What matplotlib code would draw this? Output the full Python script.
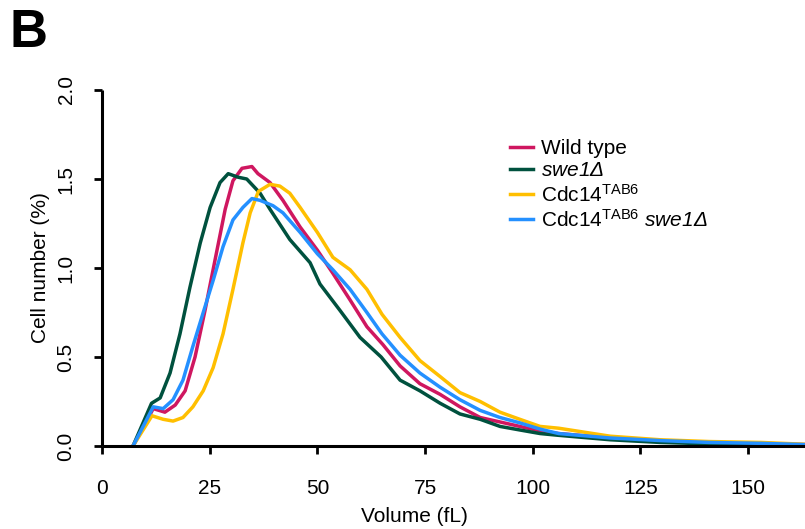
import matplotlib
matplotlib.use("Agg")
import matplotlib.pyplot as plt

plt.rcParams['font.family'] = ['Liberation Sans', 'DejaVu Sans']
plt.rcParams['mathtext.fontset'] = 'custom'
plt.rcParams['mathtext.rm'] = 'Liberation Sans'
plt.rcParams['mathtext.it'] = 'Liberation Sans:italic'
# sf se usa como "cursiva completa" (incluye digitos y Delta)
plt.rcParams['mathtext.sf'] = 'Liberation Sans:italic'

# Datos (volumen en fL, porcentaje de celulas)
vol_wt = [7.2, 11.9, 14.6, 17.0, 19.3, 21.6, 23.9, 26.2, 28.6, 30.4, 32.5, 34.8, 36.2, 39.0, 42.0, 46.0,
          50.0, 53.6, 57.6, 61.5, 65.2, 69.2, 73.8, 78.5, 83.1, 87.8, 92.4, 97.0, 101.7, 106.0, 118.0,
          130.0, 141.0, 153.0, 163.0]
pct_wt = [0.0, 0.21, 0.19, 0.23, 0.31, 0.50, 0.76, 1.04, 1.33, 1.49, 1.56, 1.57, 1.53, 1.48, 1.38, 1.23,
          1.10, 0.97, 0.82, 0.67, 0.57, 0.45, 0.35, 0.29, 0.22, 0.16, 0.135, 0.11, 0.085, 0.07, 0.045,
          0.03, 0.02, 0.015, 0.008]

vol_swe = [7.2, 11.5, 13.5, 15.8, 18.1, 20.4, 22.8, 25.1, 27.4, 29.3, 31.6, 33.6, 36.7, 39.0, 43.6,
           48.3, 50.6, 55.3, 59.9, 64.8, 69.2, 73.8, 78.5, 83.1, 87.8, 92.4, 97.0, 101.7, 106.0, 118.0,
           129.6, 141.0, 162.0]
pct_swe = [0.0, 0.24, 0.27, 0.41, 0.63, 0.89, 1.14, 1.34, 1.48, 1.53, 1.51, 1.50, 1.42, 1.33, 1.16,
           1.03, 0.91, 0.76, 0.61, 0.50, 0.37, 0.31, 0.24, 0.18, 0.15, 0.11, 0.09, 0.07, 0.06, 0.035,
           0.02, 0.012, 0.005]

vol_tab = [7.2, 11.6, 14.2, 16.5, 18.8, 21.1, 23.5, 25.8, 28.1, 30.4, 32.7, 34.4, 36.3, 39.0, 41.3,
           43.6, 46.0, 50.0, 53.6, 57.6, 61.5, 65.0, 69.2, 73.8, 78.5, 83.1, 87.8, 92.4, 97.0, 101.7,
           106.0, 118.0, 129.6, 141.0, 153.0, 163.0]
pct_tab = [0.0, 0.17, 0.15, 0.14, 0.16, 0.22, 0.31, 0.44, 0.63, 0.88, 1.14, 1.31, 1.43, 1.47, 1.46,
           1.42, 1.34, 1.20, 1.06, 0.99, 0.88, 0.74, 0.61, 0.48, 0.39, 0.30, 0.25, 0.19, 0.15, 0.11,
           0.10, 0.055, 0.035, 0.025, 0.02, 0.01]

vol_tab_swe = [7.2, 11.9, 14.2, 16.5, 18.8, 21.1, 23.5, 25.8, 28.1, 30.4, 32.7, 34.8, 36.7, 39.7, 42.0,
               46.0, 50.0, 53.6, 57.6, 61.5, 65.0, 69.2, 73.8, 78.5, 83.1, 87.8, 92.4, 97.0, 101.7,
               106.0, 118.0, 130.0, 141.0, 153.0, 163.0]
pct_tab_swe = [0.0, 0.22, 0.21, 0.26, 0.37, 0.56, 0.75, 0.93, 1.12, 1.27, 1.34, 1.39, 1.38, 1.35, 1.31,
               1.20, 1.08, 0.99, 0.88, 0.75, 0.63, 0.51, 0.41, 0.33, 0.26, 0.20, 0.16, 0.13, 0.095,
               0.07, 0.045, 0.03, 0.02, 0.015, 0.008]

etiquetas = ['Wild type', r'$\mathsf{swe1Δ}$', r'Cdc14$^{\mathrm{TAB6}}$',
             r'Cdc14$^{\mathrm{TAB6}}$ $\mathsf{swe1Δ}$']
colores = ['#CF1760', '#00513E', '#FFBF00', '#2490FF']

fig = plt.figure(figsize=(8.05, 5.29), dpi=100)
ax = fig.add_axes([102 / 805, 1 - 446 / 529, 1 - 102 / 805, (446 - 90) / 529])

series = [(vol_wt, pct_wt), (vol_swe, pct_swe), (vol_tab, pct_tab), (vol_tab_swe, pct_tab_swe)]
for (vx, vy), etiqueta, color in zip(series, etiquetas, colores):
    ax.plot(vx, vy, color=color, linewidth=2.5, label=etiqueta, solid_joinstyle='round')

ax.set_xlim(0, 163.2)
ax.set_ylim(0, 2.0)
ax.set_xticks([0, 25, 50, 75, 100, 125, 150])
ax.set_yticks([0.0, 0.5, 1.0, 1.5, 2.0])
ax.set_yticklabels(['0.0', '0.5', '1.0', '1.5', '2.0'], rotation=90, va='center')

for lado in ['top', 'right']:
    ax.spines[lado].set_visible(False)
for lado in ['left', 'bottom']:
    ax.spines[lado].set_linewidth(2.2)
    ax.spines[lado].set_capstyle('butt')
ax.tick_params(direction='out', length=6, width=2.0, labelsize=15)
ax.tick_params(axis='x', pad=18)
ax.tick_params(axis='y', pad=13)

ax.set_xlabel('Volume (fL)', fontsize=15)
ax.xaxis.set_label_coords(0.445, -0.172)
ax.set_ylabel('Cell number (%)', fontsize=15)
ax.yaxis.set_label_coords(-0.074, 0.5)

ax.legend(loc='upper left', bbox_to_anchor=(0.568, 0.886), frameon=False, fontsize=15,
          handlelength=1.1, handletextpad=0.4, labelspacing=0.16, borderaxespad=0)

fig.text(0.012, 0.985, 'B', fontsize=38, fontweight='bold', va='top', ha='left')

fig.savefig('out.png', dpi=100)
